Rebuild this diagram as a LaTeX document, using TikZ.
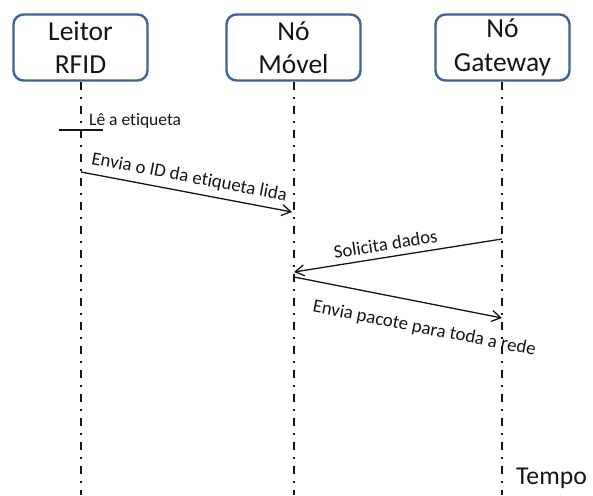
\documentclass[tikz,border=0pt]{standalone}
\usepackage{fontspec}
\setmainfont{Carlito}[Ligatures={NoCommon}]
\usetikzlibrary{arrows.meta}
\definecolor{boxblue}{HTML}{3F6394}
\definecolor{ink}{HTML}{151515}
\begin{document}
\begin{tikzpicture}[x=1pt,y=-1pt,
  actor/.style={draw=boxblue, line width=2.4pt, rounded corners=10pt, fill=white,
    minimum width=134pt, minimum height=66pt, inner sep=0pt, align=center,
    text=ink, font=\fontsize{27.5}{33.5}\selectfont},
  lifeline/.style={draw=ink, line width=2pt, dash pattern=on 8pt off 7pt on 2pt off 7pt},
  msg/.style={draw=ink, line width=1.3pt, -{Straight Barb[length=9pt,width=11pt]}},
  lbl/.style={font=\fontsize{18.8}{21}\selectfont, text=ink, inner sep=2pt},
  note/.style={font=\fontsize{17.5}{20}\selectfont, text=ink, inner sep=0pt}
]
\useasboundingbox (0,0) rectangle (593,495);

% participants
\node[actor] (leitor)  at (80.5,47.5)  {Leitor\\RFID};
\node[actor] (movel)   at (293.5,47.5) {Nó\\Móvel};
\node[actor] (gateway) at (502.5,47.5) {Nó\\Gateway};

% lifeline ends
\coordinate (leitorEnd)  at (81,495);
\coordinate (movelEnd)   at (294,495);
\coordinate (gatewayEnd) at (502,495);

\draw[lifeline] (leitor.south -| leitorEnd) -- (leitorEnd);
\draw[lifeline] (movel.south -| movelEnd) -- (movelEnd);
\draw[lifeline] (gateway.south -| gatewayEnd) -- (gatewayEnd);

% local action on the reader
\coordinate (readL) at (59,130);
\coordinate (readR) at (103,130);
\draw[ink, line width=1.3pt] (readL) -- (readR);
\node[note, anchor=base west] (readTxt) at (89,125) {Lê a etiqueta};

% message end points
\coordinate (m1a) at (81,172);
\coordinate (m1b) at (292,212);
\coordinate (m2a) at (502,239);
\coordinate (m2b) at (294,272);
\coordinate (m3a) at (294,277);
\coordinate (m3b) at (502,318);

\draw[msg] (m1a) -- node[lbl, midway, above=4pt, sloped] (l1) {Envia o ID da etiqueta lida} (m1b);
\draw[msg] (m2a) -- node[lbl, pos=0.55, above=4pt, sloped] (l2) {Solicita dados} (m2b);
\draw[msg] (m3a) -- node[lbl, pos=0.65, below=15pt, sloped] (l3) {Envia pacote para toda a rede} (m3b);

% time axis caption
\node[anchor=base west, inner sep=0pt, text=ink, font=\fontsize{25.7}{30}\selectfont] (tempo) at (516,484) {Tempo};
\end{tikzpicture}
\end{document}
